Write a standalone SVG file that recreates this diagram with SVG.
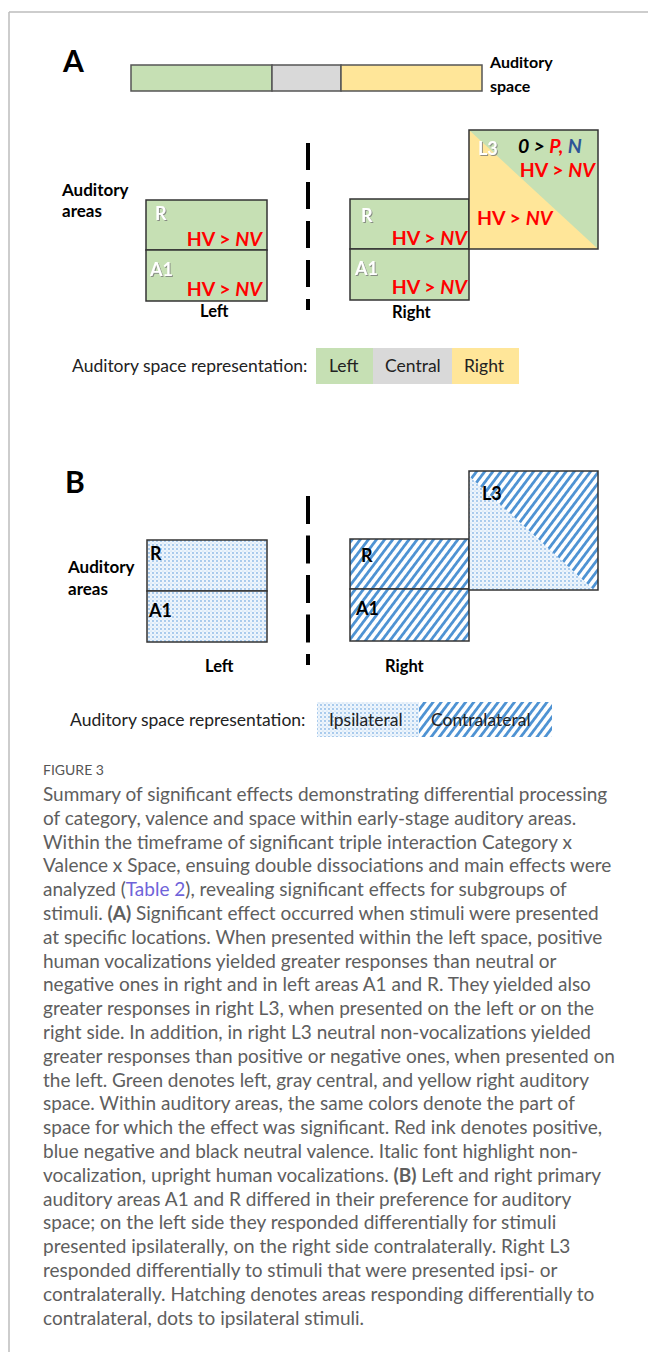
<svg xmlns="http://www.w3.org/2000/svg" width="648" height="1352" viewBox="0 0 648 1352">
<style>
.lbl{font-family:Lato,"Liberation Sans",sans-serif;font-weight:bold;fill:#000}
.big{font-size:30px}
.ax{font-size:17px}
.side{font-size:16.5px}
.eff{font-family:Lato,"Liberation Sans",sans-serif;font-weight:bold;font-size:19.5px;fill:#ff0000}
.it{font-style:italic}
.area{font-family:Lato,"Liberation Sans",sans-serif;font-weight:bold;font-size:18px;fill:#fff;filter:url(#sh)}
.areaB{font-family:Lato,"Liberation Sans",sans-serif;font-weight:bold;font-size:18px;fill:#000}
.box{stroke:#333;stroke-width:1.5}
.leg{font-family:Lato,"Liberation Sans",sans-serif;font-size:17.5px;fill:#222}
.cap{font-family:Lato,"Liberation Sans",sans-serif;font-size:19px;fill:#5e5e5e}
.mid{stroke:#000;stroke-width:4;fill:none}
.g{fill:#c6e0b4}
.gr{fill:#d9d9d9}
.y{fill:#ffe699}
</style>
<defs>
<filter id="sh" x="-20%" y="-20%" width="140%" height="140%"><feDropShadow dx="1" dy="1" stdDeviation="0.6" flood-color="#777" flood-opacity="0.8"/></filter>
<pattern id="dots" width="4" height="4" patternUnits="userSpaceOnUse">
<rect width="4" height="4" fill="#eef5fc"/>
<circle cx="1" cy="1" r="0.9" fill="#8ab8e6"/>
<circle cx="3" cy="3" r="0.6" fill="#b5d3f0"/>
</pattern>
<pattern id="hatch" width="6.5" height="6.5" patternUnits="userSpaceOnUse" patternTransform="rotate(37)">
<rect width="6.5" height="6.5" fill="#ffffff"/>
<rect width="2.8" height="6.5" fill="#4f93d3"/>
</pattern>
</defs>

<g id="frame">
<line x1="9" y1="12" x2="648" y2="12" stroke="#bdbdbd" stroke-width="1.5"/>
<line x1="9" y1="12" x2="9" y2="1352" stroke="#bdbdbd" stroke-width="1.5"/>
</g>

<!-- Panel A -->
<g id="panelA-label"><text class="lbl big" x="63" y="72">A</text></g>
<g id="auditory-space-bar">
<rect class="g" x="131" y="65" width="141" height="26" stroke="#555" stroke-width="1.5"/>
<rect class="gr" x="272" y="65" width="69" height="26" stroke="#555" stroke-width="1.5"/>
<rect class="y" x="341" y="65" width="141" height="26" stroke="#555" stroke-width="1.5"/>
<text class="lbl" font-size="16" x="490" y="68">Auditory</text>
<text class="lbl" font-size="16" x="490" y="92">space</text>
</g>
<g id="A-areas-label">
<text class="lbl ax" x="62" y="196">Auditory</text>
<text class="lbl ax" x="62" y="217">areas</text>
</g>
<g id="A-left-R">
<rect class="g box" x="146" y="200" width="121" height="50"/>
<text class="area" x="155" y="220">R</text>
<text class="eff" x="262" y="246" text-anchor="end">HV &gt; <tspan class="it">NV</tspan></text>
</g>
<g id="A-left-A1">
<rect class="g box" x="146" y="250" width="121" height="51"/>
<text class="area" x="150" y="276">A1</text>
<text class="eff" x="262" y="296" text-anchor="end">HV &gt; <tspan class="it">NV</tspan></text>
</g>
<g id="A-left-label"><text class="lbl side" x="200" y="317">Left</text></g>
<g id="A-right-R">
<rect class="g box" x="350" y="199" width="119" height="50"/>
<text class="area" x="361" y="222">R</text>
<text class="eff" x="467" y="245" text-anchor="end">HV &gt; <tspan class="it">NV</tspan></text>
</g>
<g id="A-right-A1">
<rect class="g box" x="350" y="249" width="119" height="51"/>
<text class="area" x="355" y="275">A1</text>
<text class="eff" x="467" y="294" text-anchor="end">HV &gt; <tspan class="it">NV</tspan></text>
</g>
<g id="A-right-L3">
<rect class="g" x="469" y="130" width="129" height="119"/>
<polygon class="y" points="469,130 469,249 598,249"/>
<rect x="469" y="130" width="129" height="119" fill="none" class="box"/>
<text class="area" x="478" y="155">L3</text>
<text class="eff it" x="518" y="153"><tspan fill="#000">0 &gt;</tspan> P, <tspan fill="#2f5597">N</tspan></text>
<text class="eff" x="595" y="177" text-anchor="end">HV &gt; <tspan class="it">NV</tspan></text>
<text class="eff" x="477" y="225">HV &gt; <tspan class="it">NV</tspan></text>
</g>
<g id="A-right-label"><text class="lbl side" x="392" y="318">Right</text></g>
<g id="A-legend">
<rect class="g" x="316" y="348" width="57" height="36"/>
<rect class="gr" x="373" y="348" width="79" height="36"/>
<rect class="y" x="452" y="348" width="67" height="36"/>
<text class="leg" x="72" y="372">Auditory space representation:</text>
<text class="leg" x="329" y="372">Left</text>
<text class="leg" x="385" y="372">Central</text>
<text class="leg" x="464" y="372">Right</text>
</g>

<!-- Panel B -->
<g id="panelB-label"><text class="lbl big" x="65" y="493">B</text></g>
<g id="B-areas-label">
<text class="lbl ax" x="68" y="573">Auditory</text>
<text class="lbl ax" x="68" y="595">areas</text>
</g>
<g id="B-left-R">
<rect x="147" y="540" width="120" height="51" fill="url(#dots)" class="box"/>
<text class="areaB" x="150" y="560">R</text>
</g>
<g id="B-left-A1">
<rect x="147" y="591" width="120" height="51" fill="url(#dots)" class="box"/>
<text class="areaB" x="149" y="617">A1</text>
</g>
<g id="B-left-label"><text class="lbl side" x="205" y="672">Left</text></g>
<g id="B-right-R">
<rect x="350" y="539" width="119" height="50" fill="url(#hatch)" class="box"/>
<text class="areaB" x="361" y="562">R</text>
</g>
<g id="B-right-A1">
<rect x="350" y="589" width="119" height="52" fill="url(#hatch)" class="box"/>
<text class="areaB" x="356" y="615">A1</text>
</g>
<g id="B-right-L3">
<rect x="469" y="471" width="129" height="119" fill="url(#hatch)"/>
<polygon points="469,476 469,590 594,590" fill="url(#dots)"/>
<rect x="469" y="471" width="129" height="119" fill="none" class="box"/>
<text class="areaB" x="482" y="500">L3</text>
</g>
<g id="B-right-label"><text class="lbl side" x="385" y="672">Right</text></g>
<g id="B-legend">
<rect x="317" y="702" width="102" height="35" fill="url(#dots)"/>
<rect x="419" y="702" width="133" height="35" fill="url(#hatch)"/>
<text class="leg" x="70" y="726">Auditory space representation:</text>
<text class="leg" x="329" y="726">Ipsilateral</text>
<text class="leg" x="431" y="726">Contralateral</text>
</g>

<g id="connectors">
<line class="mid" x1="308" y1="143" x2="308" y2="310" stroke-dasharray="27 12"/>
<line class="mid" x1="308" y1="496" x2="308" y2="665" stroke-dasharray="28 11.5"/>
</g>

<g id="caption">
<text x="43" y="775" font-family="Lato,'Liberation Sans',sans-serif" font-size="14" fill="#555">FIGURE 3</text>
<text class="cap" x="43" y="801">Summary of significant effects demonstrating differential processing</text>
<text class="cap" x="43" y="824.8">of category, valence and space within early-stage auditory areas.</text>
<text class="cap" x="43" y="848.6">Within the timeframe of significant triple interaction Category x</text>
<text class="cap" x="43" y="872.4">Valence x Space, ensuing double dissociations and main effects were</text>
<text class="cap" x="43" y="896.2">analyzed (<tspan fill="#6f63d9">Table 2</tspan>), revealing significant effects for subgroups of</text>
<text class="cap" x="43" y="920">stimuli. <tspan font-weight="bold">(A)</tspan> Significant effect occurred when stimuli were presented</text>
<text class="cap" x="43" y="943.8">at specific locations. When presented within the left space, positive</text>
<text class="cap" x="43" y="967.6">human vocalizations yielded greater responses than neutral or</text>
<text class="cap" x="43" y="991.4">negative ones in right and in left areas A1 and R. They yielded also</text>
<text class="cap" x="43" y="1015.2">greater responses in right L3, when presented on the left or on the</text>
<text class="cap" x="43" y="1039">right side. In addition, in right L3 neutral non-vocalizations yielded</text>
<text class="cap" x="43" y="1062.8">greater responses than positive or negative ones, when presented on</text>
<text class="cap" x="43" y="1086.6">the left. Green denotes left, gray central, and yellow right auditory</text>
<text class="cap" x="43" y="1110.4">space. Within auditory areas, the same colors denote the part of</text>
<text class="cap" x="43" y="1134.2">space for which the effect was significant. Red ink denotes positive,</text>
<text class="cap" x="43" y="1158">blue negative and black neutral valence. Italic font highlight non-</text>
<text class="cap" x="43" y="1181.8">vocalization, upright human vocalizations. <tspan font-weight="bold">(B)</tspan> Left and right primary</text>
<text class="cap" x="43" y="1205.6">auditory areas A1 and R differed in their preference for auditory</text>
<text class="cap" x="43" y="1229.4">space; on the left side they responded differentially for stimuli</text>
<text class="cap" x="43" y="1253.2">presented ipsilaterally, on the right side contralaterally. Right L3</text>
<text class="cap" x="43" y="1277">responded differentially to stimuli that were presented ipsi- or</text>
<text class="cap" x="43" y="1300.8">contralaterally. Hatching denotes areas responding differentially to</text>
<text class="cap" x="43" y="1324.6">contralateral, dots to ipsilateral stimuli.</text>
</g>
</svg>
